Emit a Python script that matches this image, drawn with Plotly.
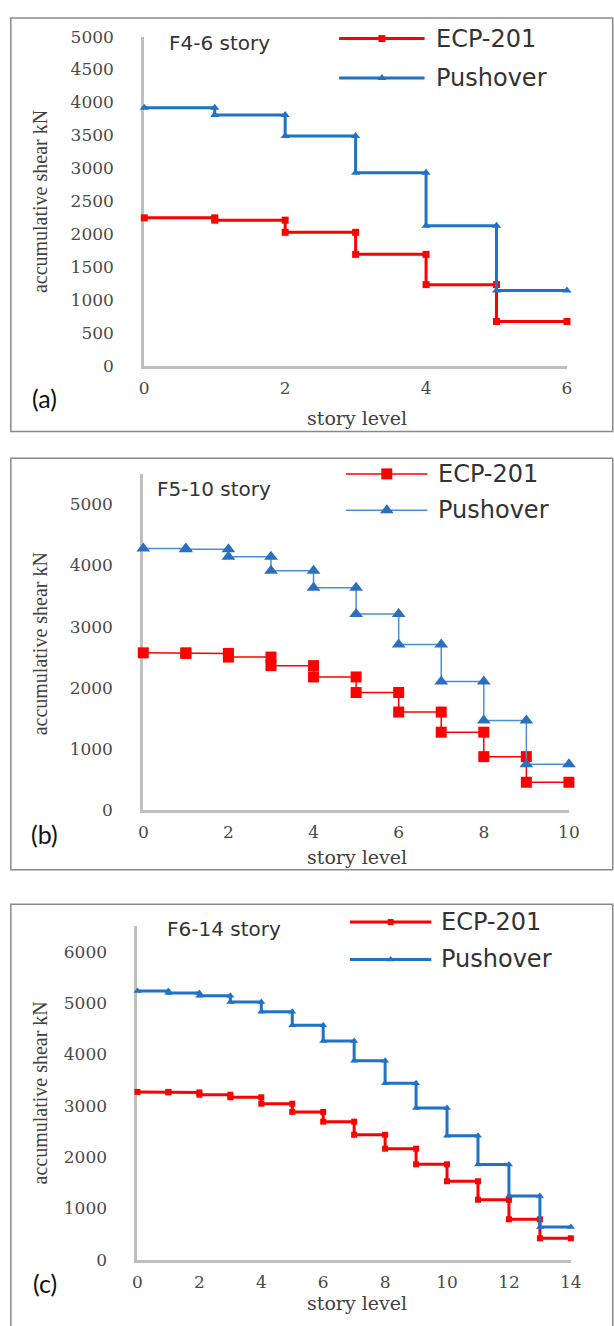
import plotly.graph_objects as go

W, H = 614, 1326

# ---- data (story shear per level segment, kN) ----
ECP_A = [2245, 2210, 2025, 1690, 1230, 670]
PUSH_A = [3920, 3810, 3490, 2930, 2125, 1140]
ECP_B = [2570, 2560, 2500, 2360, 2175, 1920, 1600, 1270, 870, 450]
PUSH_B = [4280, 4265, 4145, 3915, 3635, 3205, 2705, 2100, 1460, 745]
ECP_C = [3270, 3260, 3215, 3165, 3040, 2880, 2690, 2435, 2165, 1860, 1530, 1170, 790, 420]
PUSH_C = [5235, 5195, 5140, 5020, 4830, 4565, 4260, 3875, 3440, 2955, 2415, 1855, 1245, 640]

YTICKS_A = [0, 500, 1000, 1500, 2000, 2500, 3000, 3500, 4000, 4500, 5000]
YTICKS_B = [0, 1000, 2000, 3000, 4000, 5000]
YTICKS_C = [0, 1000, 2000, 3000, 4000, 5000, 6000]
XTICKS_A = [0, 2, 4, 6]
XTICKS_B = [0, 2, 4, 6, 8, 10]
XTICKS_C = [0, 2, 4, 6, 8, 10, 12, 14]

PANEL_TITLES = ["F4-6 story", "F5-10 story", "F6-14 story"]
PANEL_LABELS = ["(a)", "(b)", "(c)"]
SERIES_NAMES = ["ECP-201", "Pushover"]
Y_TITLE = "accumulative shear kN"
X_TITLE = "story level"

RED = "#ff0000"
BLUE = "#1f72c4"


def px(x):
    return x / W


def py(y):
    return 1 - y / H


def steps(vals):
    xs, ys = [], []
    for i, v in enumerate(vals):
        xs += [i, i + 1]
        ys += [v, v]
    return xs, ys


panels = [
    dict(ecp=ECP_A, push=PUSH_A, yt=YTICKS_A, xt=XTICKS_A, ymax=5000,
         x0=143, x1=577, yb=361, yt_px=27,
         lw=3, ms_sq=7, ms_tri=8, line_blue=BLUE, mark_blue=BLUE,
         title_xy=(166, 34), label_y=394, ytitle_y=195, xtitle_y=414,
         leg_x=(343, 431), leg_rows=(29, 69), leg_text_x=440,
         box=(8, 428)),
    dict(ecp=ECP_B, push=PUSH_B, yt=YTICKS_B, xt=XTICKS_B, ymax=5500,
         x0=142, x1=579, yb=812, yt_px=471,
         lw=1.5, ms_sq=11, ms_tri=12, line_blue="#4a8fd6", mark_blue="#2a6fc0",
         title_xy=(154, 486), label_y=837, ytitle_y=644, xtitle_y=860,
         leg_x=(350, 434), leg_rows=(471, 508), leg_text_x=443,
         box=(455, 873)),
    dict(ecp=ECP_C, push=PUSH_C, yt=YTICKS_C, xt=XTICKS_C, ymax=6500,
         x0=136, x1=581, yb=1269, yt_px=930,
         lw=3, ms_sq=6, ms_tri=7, line_blue=BLUE, mark_blue=BLUE,
         title_xy=(164, 933), label_y=1292, ytitle_y=1100, xtitle_y=1313,
         leg_x=(354, 438), leg_rows=(926, 964), leg_text_x=446,
         box=(908, 1345)),
]

fig = go.Figure()
layout = {}
annotations = []
shapes = []

for k, p in enumerate(panels):
    n = k + 1
    sx = "" if n == 1 else str(n)
    xa, ya = "x" + sx, "y" + sx
    nmax = len(p["ecp"])

    xs, ys = steps(p["ecp"])
    fig.add_trace(go.Scatter(x=xs, y=ys, mode="lines+markers", name=SERIES_NAMES[0],
                             xaxis=xa, yaxis=ya, showlegend=False, cliponaxis=False,
                             line=dict(color=RED, width=p["lw"]),
                             marker=dict(symbol="square", size=p["ms_sq"], color=RED)))
    xs, ys = steps(p["push"])
    fig.add_trace(go.Scatter(x=xs, y=ys, mode="lines+markers", name=SERIES_NAMES[1],
                             xaxis=xa, yaxis=ya, showlegend=False, cliponaxis=False,
                             line=dict(color=p["line_blue"], width=p["lw"]),
                             marker=dict(symbol="triangle-up", size=p["ms_tri"], color=p["mark_blue"])))

    axis_common = dict(showgrid=False, zeroline=False, showline=True, linecolor="#bfbfbf",
                       linewidth=3, ticks="", layer="below traces",
                       tickfont=dict(family="DejaVu Serif", size=17, color="#4a4a4a"))
    layout["xaxis" + sx] = dict(axis_common, domain=[px(p["x0"]), px(p["x1"])],
                                range=[0, nmax], tickmode="array", tickvals=p["xt"],
                                ticktext=[str(v) for v in p["xt"]], anchor=ya,
                                ticklabelstandoff=5)
    layout["yaxis" + sx] = dict(axis_common, domain=[py(p["yb"]), py(p["yt_px"])],
                                range=[0, p["ymax"]], tickmode="array", tickvals=p["yt"],
                                ticktext=[str(v) for v in p["yt"]], anchor=xa,
                                ticklabelstandoff=24)

    # legend drawn on an invisible overlay subplot
    lx = str(n + 3)
    r_top, r_bot = p["leg_rows"]
    gap = r_bot - r_top
    layout["xaxis" + lx] = dict(domain=[px(p["leg_x"][0]), px(p["leg_x"][1])], range=[0, 1],
                                visible=False, anchor="y" + lx, fixedrange=True)
    layout["yaxis" + lx] = dict(domain=[py(r_bot + gap / 2), py(r_top - gap / 2)], range=[-0.5, 1.5],
                                visible=False, anchor="x" + lx, fixedrange=True)
    leg_specs = [(1, RED, RED, "square", p["ms_sq"]),
                 (0, p["line_blue"], p["mark_blue"], "triangle-up", p["ms_tri"])]
    for row, lc, mc, sym, ms in leg_specs:
        fig.add_trace(go.Scatter(x=[0, 1], y=[row, row], mode="lines", xaxis="x" + lx, yaxis="y" + lx,
                                 showlegend=False, hoverinfo="skip", cliponaxis=False,
                                 line=dict(color=lc, width=p["lw"])))
        fig.add_trace(go.Scatter(x=[0.5], y=[row], mode="markers", xaxis="x" + lx, yaxis="y" + lx,
                                 showlegend=False, hoverinfo="skip", cliponaxis=False,
                                 marker=dict(symbol=sym, size=ms, color=mc)))
    for j, name in enumerate(SERIES_NAMES):
        annotations.append(dict(text=name, xref="paper", yref="paper",
                                x=px(p["leg_text_x"]), y=py(p["leg_rows"][j]),
                                xanchor="left", yanchor="middle", showarrow=False,
                                font=dict(family="DejaVu Sans", size=24, color="#333333")))

    # texts
    annotations.append(dict(text=PANEL_TITLES[k], xref="paper", yref="paper",
                            x=px(p["title_xy"][0]), y=py(p["title_xy"][1]),
                            xanchor="left", yanchor="middle", showarrow=False,
                            font=dict(family="DejaVu Sans", size=20, color="#333333")))
    annotations.append(dict(text=PANEL_LABELS[k], xref="paper", yref="paper",
                            x=px(41), y=py(p["label_y"]), xanchor="center", yanchor="middle",
                            showarrow=False, font=dict(family="Lato", size=25, color="#111111")))
    annotations.append(dict(text=Y_TITLE, xref="paper", yref="paper", textangle=-90,
                            x=px(36), y=py(p["ytitle_y"]), xanchor="center", yanchor="middle",
                            showarrow=False, font=dict(family="Liberation Serif", size=20, color="#404040")))
    annotations.append(dict(text=X_TITLE, xref="paper", yref="paper",
                            x=px(361), y=py(p["xtitle_y"]), xanchor="center", yanchor="middle",
                            showarrow=False, font=dict(family="DejaVu Serif", size=19, color="#404040")))

    # panel frame
    shapes.append(dict(type="rect", xref="paper", yref="paper", x0=px(6), x1=px(W + 10),
                       y0=py(p["box"][1]), y1=py(p["box"][0]),
                       line=dict(color="#8a8a8a", width=1.5), fillcolor="rgba(0,0,0,0)", layer="below"))

fig.update_layout(**layout)
fig.update_layout(width=W, height=H, margin=dict(l=0, r=0, t=0, b=0),
                  paper_bgcolor="white", plot_bgcolor="rgba(0,0,0,0)",
                  annotations=annotations, shapes=shapes, showlegend=False)

fig.write_html("out.html", config={"displayModeBar": False})
